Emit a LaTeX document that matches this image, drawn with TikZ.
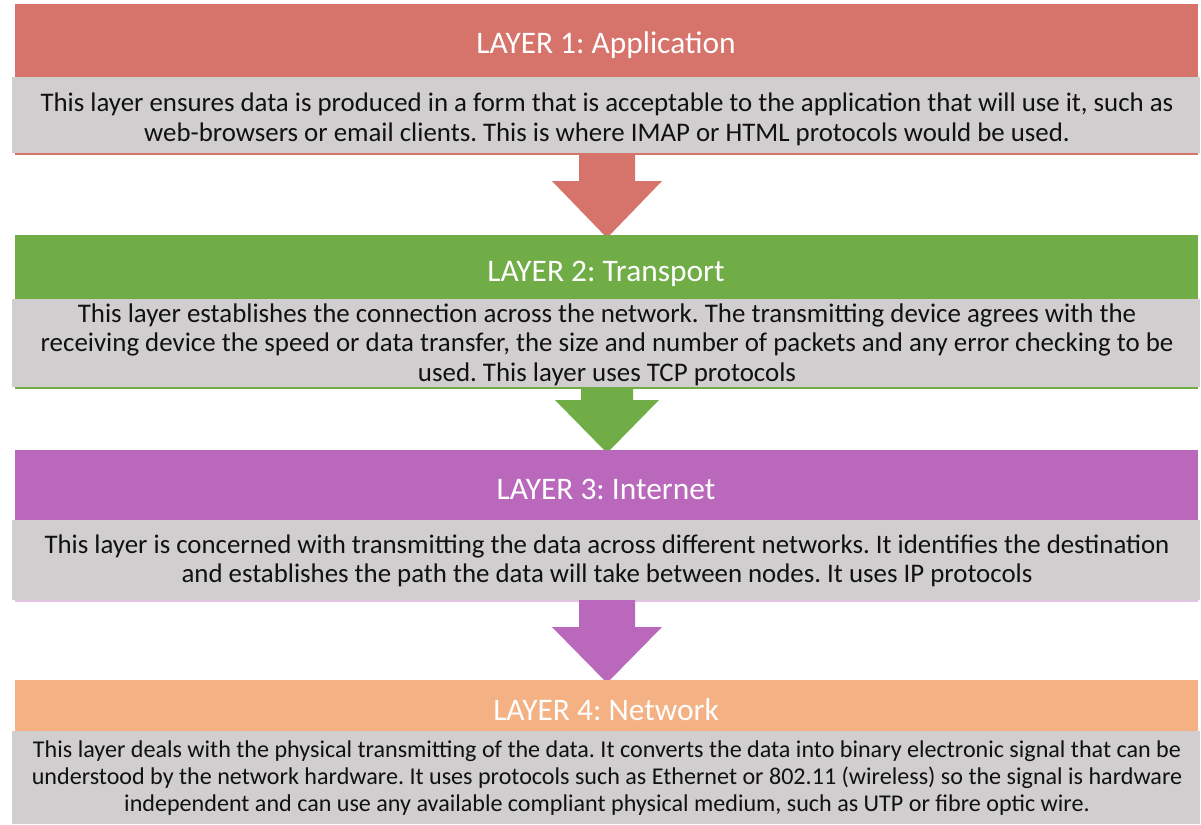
\documentclass[tikz,border=0pt]{standalone}
\usepackage{fontspec}
\setmainfont{Carlito}
\frenchspacing
\definecolor{lred}{HTML}{D6736A}
\definecolor{lgreen}{HTML}{70AD47}
\definecolor{lpurple}{HTML}{BA68BC}
\definecolor{lorange}{HTML}{F4B183}
\definecolor{lgray}{HTML}{D0CECE}
\definecolor{ltext}{HTML}{111111}
\tikzset{
  headtext/.style={text=white, font=\fontsize{31.4}{36}\selectfont, inner sep=0pt, anchor=base},
  bodytext/.style={text=ltext, align=center, inner sep=0pt, anchor=base},
  graybox/.style={fill=lgray, draw=none},
}
\begin{document}
\frenchspacing
\begin{tikzpicture}[x=1pt,y=-1pt]
\useasboundingbox (0,0) rectangle (1201,824);
% Layer 1
\fill[lred] (15,4) rectangle (1198,155);
\fill[graybox] (12,77) rectangle (1200,153);
\node[headtext] (h1) at (606,54) {LAYER 1: Application};
\node[bodytext, font=\fontsize{26.85}{29.5}\selectfont] (b1) at (607,141) {This layer ensures data is produced in a form that is acceptable to the application that will use it, such as\\web-browsers or email clients. This is where IMAP or HTML protocols would be used.};
% Arrow 1
\fill[lred] (579,153) -- (635,153) -- (635,181) -- (662,181) -- (607,238) -- (552,181) -- (579,181) -- cycle;
% Layer 2
\fill[lgreen] (15,235) rectangle (1198,389);
\fill[graybox] (12,299) rectangle (1200,387);
\node[headtext] (h2) at (606,281) {LAYER 2: Transport};
\node[bodytext, font=\fontsize{26.9}{29.5}\selectfont] (b2) at (607,381) {This layer establishes the connection across the network. The transmitting device agrees with the\\receiving device the speed or data transfer, the size and number of packets and any error checking to be\\used. This layer uses TCP protocols};
% Arrow 2
\fill[lgreen] (581,387) -- (633,387) -- (633,400) -- (659,400) -- (607,453) -- (555,400) -- (581,400) -- cycle;
% Layer 3
\fill[lpurple!40] (15,450) rectangle (1198,602);
\fill[lpurple] (15,450) rectangle (1198,520);
\fill[graybox] (12,520) rectangle (1200,600);
\node[headtext] (h3) at (606,499) {LAYER 3: Internet};
\node[bodytext, font=\fontsize{26.85}{28.5}\selectfont] (b3) at (607,582) {This layer is concerned with transmitting the data across different networks. It identifies the destination\\and establishes the path the data will take between nodes. It uses IP protocols};
% Arrow 3
\fill[lpurple] (579,600) -- (635,600) -- (635,627) -- (662,627) -- (607,683) -- (552,627) -- (579,627) -- cycle;
% Layer 4
\fill[lorange] (15,680) rectangle (1198,731);
\fill[graybox] (12,731) rectangle (1200,824);
\node[headtext] (h4) at (606,720) {LAYER 4: Network};
\node[bodytext, font=\fontsize{24.1}{27}\selectfont] (b4) at (607,811) {This layer deals with the physical transmitting of the data. It converts the data into binary electronic signal that can be\\understood by the network hardware. It uses protocols such as Ethernet or 802.11 (wireless) so the signal is hardware\\independent and can use any available compliant physical medium, such as UTP or fibre optic wire.};
\end{tikzpicture}
\end{document}
